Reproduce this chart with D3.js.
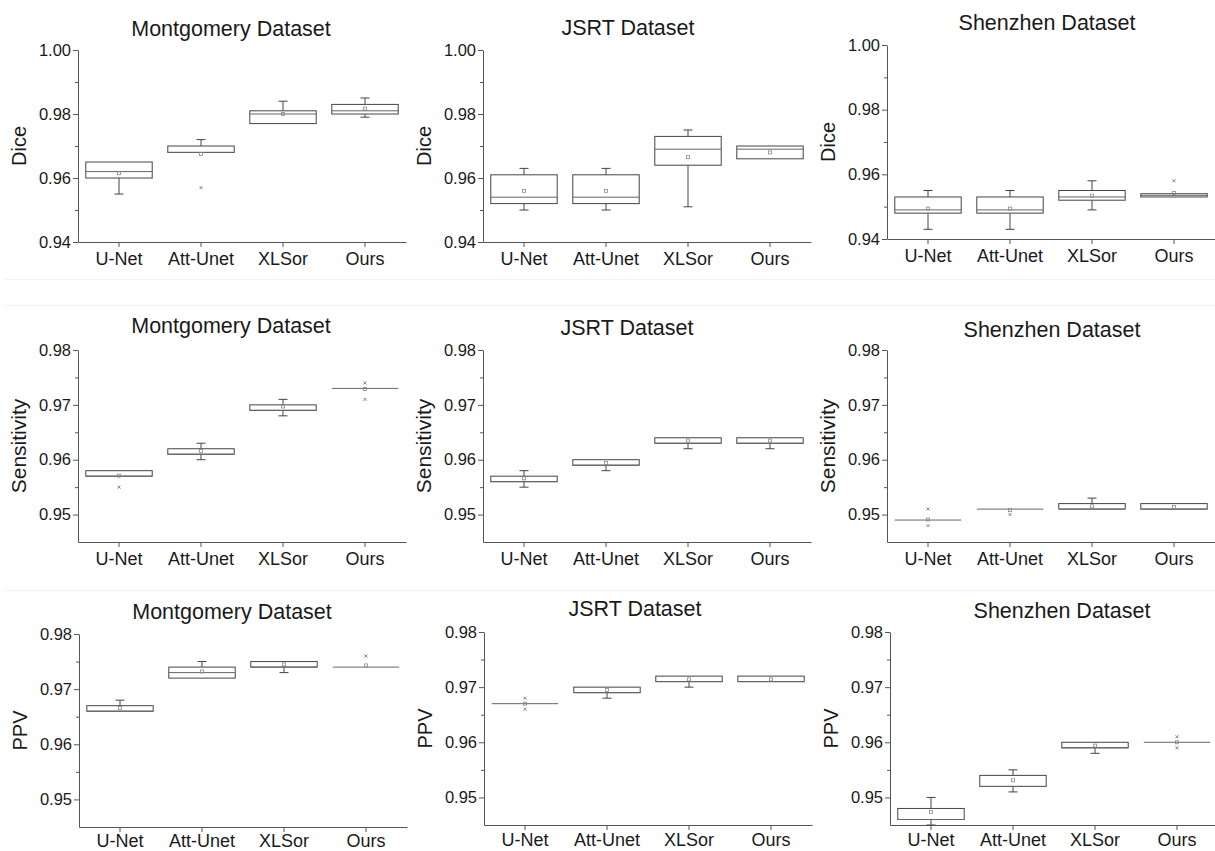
<!DOCTYPE html>
<html><head><meta charset="utf-8">
<script src="https://cdn.jsdelivr.net/npm/d3@7"></script>
<style>
html,body{margin:0;padding:0;background:#fff;}
svg{display:block;font-family:"Liberation Sans",Arial,sans-serif;}
</style></head>
<body><svg id="c" width="1215" height="851"></svg>
<script>
// ---------------- data ----------------
const categories = ["U-Net", "Att-Unet", "XLSor", "Ours"];
const datasetNames = ["Montgomery Dataset", "JSRT Dataset", "Shenzhen Dataset"];
const metricNames = ["Dice", "Sensitivity", "PPV"];
const diceTicks = [0.94, 0.96, 0.98, 1.00];
const sensTicks = [0.95, 0.96, 0.97, 0.98];
const ppvTicks = [0.95, 0.96, 0.97, 0.98];
const diceDomain = [0.94, 1.00];
const sensDomain = [0.945, 0.98];
const ppvDomain = [0.945, 0.98];

// each row: [whiskerLow, q1, median, q3, whiskerHigh, mean]
const montgomeryDice = [
  [0.955, 0.960, 0.962, 0.965, 0.965, 0.9615],
  [0.968, 0.968, 0.968, 0.970, 0.972, 0.9675],
  [0.977, 0.977, 0.980, 0.981, 0.984, 0.980],
  [0.979, 0.980, 0.981, 0.983, 0.985, 0.9817]
];
const montgomeryDiceOutliers = [[], [0.957], [], []];
const jsrtDice = [
  [0.950, 0.952, 0.954, 0.961, 0.963, 0.956],
  [0.950, 0.952, 0.954, 0.961, 0.963, 0.956],
  [0.951, 0.964, 0.969, 0.973, 0.975, 0.9665],
  [0.966, 0.966, 0.969, 0.970, 0.970, 0.968]
];
const jsrtDiceOutliers = [[], [], [], []];
const shenzhenDice = [
  [0.943, 0.948, 0.949, 0.953, 0.955, 0.9494],
  [0.943, 0.948, 0.949, 0.953, 0.955, 0.9494],
  [0.949, 0.952, 0.953, 0.955, 0.958, 0.9534],
  [0.953, 0.953, 0.9535, 0.954, 0.954, 0.9542]
];
const shenzhenDiceOutliers = [[], [], [], [0.958]];

const montgomerySens = [
  [0.957, 0.957, 0.957, 0.958, 0.958, 0.9571],
  [0.960, 0.961, 0.961, 0.962, 0.963, 0.9616],
  [0.968, 0.969, 0.969, 0.970, 0.971, 0.9697],
  [0.973, 0.973, 0.973, 0.973, 0.973, 0.9729]
];
const montgomerySensOutliers = [[0.955], [], [], [0.974, 0.971]];
const jsrtSens = [
  [0.955, 0.956, 0.956, 0.957, 0.958, 0.9566],
  [0.958, 0.959, 0.959, 0.960, 0.960, 0.9594],
  [0.962, 0.963, 0.963, 0.964, 0.964, 0.9635],
  [0.962, 0.963, 0.963, 0.964, 0.964, 0.9635]
];
const jsrtSensOutliers = [[], [], [], []];
const shenzhenSens = [
  [0.949, 0.949, 0.949, 0.949, 0.949, 0.9491],
  [0.951, 0.951, 0.951, 0.951, 0.951, 0.9508],
  [0.951, 0.951, 0.951, 0.952, 0.953, 0.9515],
  [0.951, 0.951, 0.951, 0.952, 0.952, 0.9514]
];
const shenzhenSensOutliers = [[0.951, 0.948], [0.950], [], []];

const montgomeryPPV = [
  [0.966, 0.966, 0.966, 0.967, 0.968, 0.9666],
  [0.972, 0.972, 0.973, 0.974, 0.975, 0.9732],
  [0.973, 0.974, 0.974, 0.975, 0.975, 0.9745],
  [0.974, 0.974, 0.974, 0.974, 0.974, 0.9743]
];
const montgomeryPPVOutliers = [[], [], [], [0.976]];
const jsrtPPV = [
  [0.967, 0.967, 0.967, 0.967, 0.967, 0.967],
  [0.968, 0.969, 0.969, 0.970, 0.970, 0.9695],
  [0.970, 0.971, 0.971, 0.972, 0.972, 0.9714],
  [0.971, 0.971, 0.971, 0.972, 0.972, 0.9714]
];
const jsrtPPVOutliers = [[0.968, 0.966], [], [], []];
const shenzhenPPV = [
  [0.945, 0.946, 0.946, 0.948, 0.950, 0.9474],
  [0.951, 0.952, 0.952, 0.954, 0.955, 0.9531],
  [0.958, 0.959, 0.959, 0.960, 0.960, 0.9594],
  [0.960, 0.960, 0.960, 0.960, 0.960, 0.960]
];
const shenzhenPPVOutliers = [[], [], [], [0.961, 0.959]];

// ---------------- layout (positions only) ----------------
const layout = [
  {ax: 78,  top: 50,  bottom: 242, tx: 231,  ty: 36,  pad: 5},
  {ax: 483, top: 50,  bottom: 242, tx: 628,  ty: 35,  pad: 5},
  {ax: 887, top: 45,  bottom: 239, tx: 1047, ty: 30,  pad: 5},
  {ax: 78,  top: 350, bottom: 542, tx: 231,  ty: 333, pad: 5},
  {ax: 483, top: 350, bottom: 542, tx: 627,  ty: 335, pad: 5},
  {ax: 887, top: 350, bottom: 542, tx: 1052, ty: 337, pad: 5},
  {ax: 79,  top: 634, bottom: 827, tx: 232,  ty: 619, pad: 2},
  {ax: 484, top: 632, bottom: 825, tx: 635,  ty: 616, pad: 3},
  {ax: 890, top: 632, bottom: 825, tx: 1062, ty: 618, pad: 3}
];
const panels = [
  {stats: montgomeryDice, out: montgomeryDiceOutliers, ds: 0, m: 0, ticks: diceTicks, dom: diceDomain},
  {stats: jsrtDice, out: jsrtDiceOutliers, ds: 1, m: 0, ticks: diceTicks, dom: diceDomain},
  {stats: shenzhenDice, out: shenzhenDiceOutliers, ds: 2, m: 0, ticks: diceTicks, dom: diceDomain},
  {stats: montgomerySens, out: montgomerySensOutliers, ds: 0, m: 1, ticks: sensTicks, dom: sensDomain},
  {stats: jsrtSens, out: jsrtSensOutliers, ds: 1, m: 1, ticks: sensTicks, dom: sensDomain},
  {stats: shenzhenSens, out: shenzhenSensOutliers, ds: 2, m: 1, ticks: sensTicks, dom: sensDomain},
  {stats: montgomeryPPV, out: montgomeryPPVOutliers, ds: 0, m: 2, ticks: ppvTicks, dom: ppvDomain},
  {stats: jsrtPPV, out: jsrtPPVOutliers, ds: 1, m: 2, ticks: ppvTicks, dom: ppvDomain},
  {stats: shenzhenPPV, out: shenzhenPPVOutliers, ds: 2, m: 2, ticks: ppvTicks, dom: ppvDomain}
];
const labelSize = [20, 21, 20];

const svg = d3.select("#c");
const textColor = "#1a1a1a", axisColor = "#555", boxColor = "#444";

// faint image seams
[279, 305, 590].forEach(yy => svg.append("line").attr("x1", 5).attr("x2", 1215)
  .attr("y1", yy + 0.5).attr("y2", yy + 0.5).attr("stroke", "#f3f3f3"));

panels.forEach((p, i) => {
  const L = layout[i];
  const g = svg.append("g");
  const x = d3.scaleBand().domain(categories).range([L.ax, L.ax + 328]).padding(0);
  const y = d3.scaleLinear().domain(p.dom).range([L.bottom, L.top]);
  const cx = c => x(c) + x.bandwidth() / 2;
  const bw = x.bandwidth() * 0.81;
  const step = p.ticks[1] - p.ticks[0];
  const minor = p.ticks.slice(0, -1).map(t => t + step / 2);

  // minor ticks
  g.append("g").attr("transform", `translate(${L.ax},0)`)
    .call(d3.axisLeft(y).tickValues(minor).tickSize(3).tickFormat(""))
    .call(a => a.select(".domain").remove())
    .selectAll("line").attr("stroke", axisColor);
  // y axis
  const ya = g.append("g").attr("transform", `translate(${L.ax},0)`)
    .call(d3.axisLeft(y).tickValues(p.ticks).tickSize(5).tickPadding(2).tickSizeOuter(0).tickFormat(d3.format(".2f")));
  ya.select(".domain").attr("stroke", axisColor);
  ya.selectAll(".tick line").attr("stroke", axisColor);
  ya.selectAll("text").attr("font-size", 16.5).attr("fill", textColor)
    .attr("font-family", "'Liberation Sans',Arial,sans-serif");
  // x axis
  const xa = g.append("g").attr("transform", `translate(0,${L.bottom})`)
    .call(d3.axisBottom(x).tickSize(5).tickSizeOuter(0).tickPadding(L.pad));
  xa.select(".domain").attr("stroke", axisColor);
  xa.selectAll(".tick line").attr("stroke", axisColor);
  xa.selectAll("text").attr("font-size", 18).attr("fill", textColor)
    .attr("font-family", "'Liberation Sans',Arial,sans-serif");

  // title
  g.append("text").attr("x", L.tx).attr("y", L.ty).attr("text-anchor", "middle")
    .attr("font-size", 21.5).attr("fill", textColor).text(datasetNames[p.ds]);
  // y label
  const my = (L.top + L.bottom) / 2;
  g.append("text").attr("transform", `translate(${L.ax - 59},${my}) rotate(-90)`)
    .attr("text-anchor", "middle").attr("dy", "0.35em")
    .attr("font-size", labelSize[p.m]).attr("fill", textColor).text(metricNames[p.m]);

  // boxes
  p.stats.forEach((s, k) => {
    const c = categories[k];
    const xc = cx(c);
    const [lo, q1, med, q3, hi, mean] = s;
    const bg = g.append("g").attr("stroke", boxColor).attr("fill", "none").attr("stroke-width", 1);
    if (hi > q3) {
      bg.append("line").attr("x1", xc).attr("x2", xc).attr("y1", y(q3)).attr("y2", y(hi));
      bg.append("line").attr("x1", xc - 4.5).attr("x2", xc + 4.5).attr("y1", y(hi)).attr("y2", y(hi));
    }
    if (lo < q1) {
      bg.append("line").attr("x1", xc).attr("x2", xc).attr("y1", y(q1)).attr("y2", y(lo));
      bg.append("line").attr("x1", xc - 4.5).attr("x2", xc + 4.5).attr("y1", y(lo)).attr("y2", y(lo));
    }
    bg.append("rect").attr("x", xc - bw / 2).attr("y", y(q3))
      .attr("width", bw).attr("height", Math.max(0, y(q1) - y(q3))).attr("fill", "#fff");
    bg.append("line").attr("x1", xc - bw / 2).attr("x2", xc + bw / 2)
      .attr("y1", y(med)).attr("y2", y(med)).attr("stroke", "#666");
    bg.append("rect").attr("x", xc - 1.5).attr("y", y(mean) - 1.5).attr("width", 3).attr("height", 3)
      .attr("stroke", "#888").attr("stroke-width", 0.8);
    p.out[k].forEach(v => {
      const yy = y(v);
      bg.append("path").attr("d", `M${xc - 1.5},${yy - 1.5}L${xc + 1.5},${yy + 1.5}M${xc - 1.5},${yy + 1.5}L${xc + 1.5},${yy - 1.5}`)
        .attr("stroke", "#777").attr("stroke-width", 0.9);
    });
  });
});
</script></body></html>
